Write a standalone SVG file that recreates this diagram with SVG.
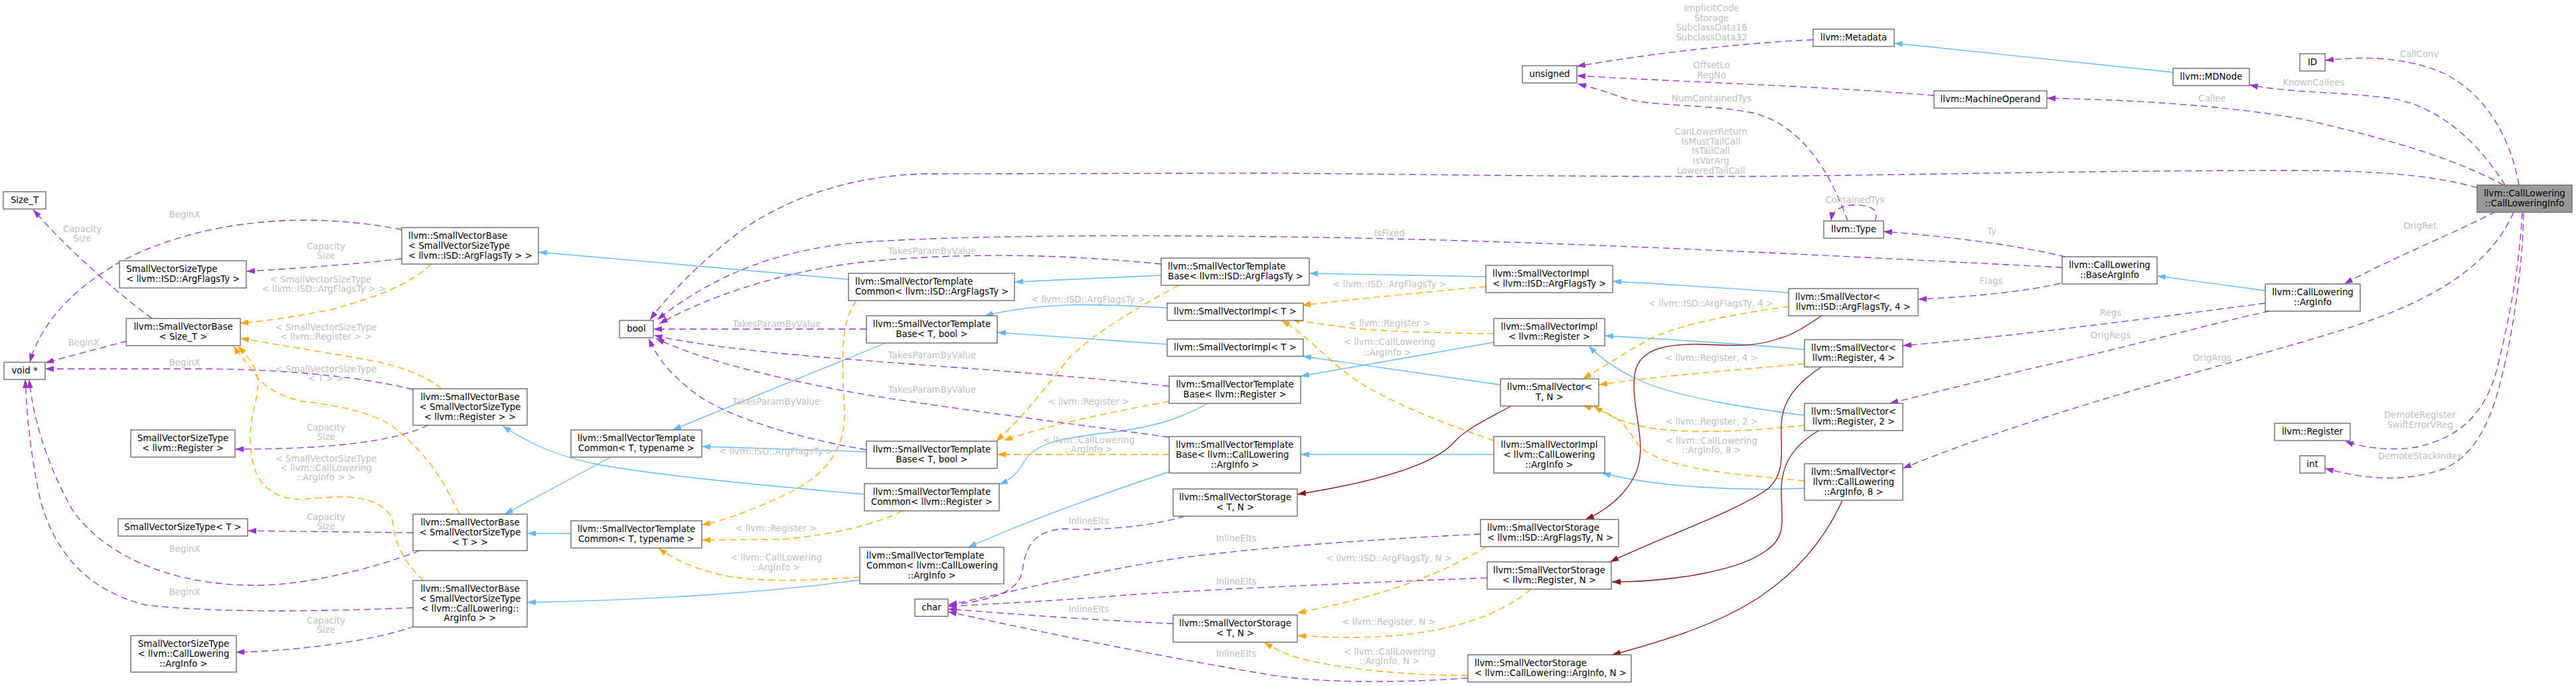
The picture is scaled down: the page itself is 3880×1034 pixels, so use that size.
<svg xmlns="http://www.w3.org/2000/svg" width="3880" height="1034" viewBox="0 0 3880 1034">
<style>
.n rect{fill:#fff;stroke:#666;stroke-width:1.33}
.n text,.l{font-family:"DejaVu Sans",sans-serif;font-size:13.33px}
.n text{fill:#000}
.m{text-anchor:middle}
.l{fill:#bebebe;text-anchor:middle}
.e path{fill:none;stroke-width:1.33}
.p{stroke:#9a32cd;stroke-dasharray:10,6;marker-end:url(#ap)}
.o{stroke:#ffa500;stroke-dasharray:10,6;marker-end:url(#ao)}
.b{stroke:#63b8ff;marker-end:url(#ab)}
.r{stroke:#8b1a1a;marker-end:url(#ar)}
</style>
<defs>
<marker id="ap" viewBox="0 0 13 9" refX="13" refY="4.5" markerWidth="13" markerHeight="9" markerUnits="userSpaceOnUse" orient="auto"><path d="M0,0L13,4.5L0,9z" fill="#9a32cd"/></marker>
<marker id="ao" viewBox="0 0 13 9" refX="13" refY="4.5" markerWidth="13" markerHeight="9" markerUnits="userSpaceOnUse" orient="auto"><path d="M0,0L13,4.5L0,9z" fill="#ffa500"/></marker>
<marker id="ab" viewBox="0 0 13 9" refX="13" refY="4.5" markerWidth="13" markerHeight="9" markerUnits="userSpaceOnUse" orient="auto"><path d="M0,0L13,4.5L0,9z" fill="#63b8ff"/></marker>
<marker id="ar" viewBox="0 0 13 9" refX="13" refY="4.5" markerWidth="13" markerHeight="9" markerUnits="userSpaceOnUse" orient="auto"><path d="M0,0L13,4.5L0,9z" fill="#8b1a1a"/></marker>
</defs>
<rect width="3880" height="1034" fill="#fff"/>
<g id="edges" class="e">
<path class="p" d="M229,480C190,452 110,385 50,316"/>
<text class="l" x="124" y="350">Capacity</text><text class="l" x="124" y="364">Size</text>
<path class="p" d="M605,346C480,322 330,325 200,385C110,430 60,490 45,546"/>
<text class="l" x="278" y="328">BeginX</text>
<path class="p" d="M605,390C540,398 440,405 371,409"/>
<text class="l" x="491" y="376">Capacity</text><text class="l" x="491" y="390">Size</text>
<path class="p" d="M191,514C150,525 100,538 68,547"/>
<text class="l" x="126" y="521">BeginX</text>
<path class="p" d="M622,587C540,567 420,556 300,556C200,556 120,556 68,556"/>
<text class="l" x="278" y="551">BeginX</text>
<path class="p" d="M645,641C600,662 520,677 354,677"/>
<text class="l" x="491" y="649">Capacity</text><text class="l" x="491" y="663">Size</text>
<path class="p" d="M622,803L373,800"/>
<text class="l" x="491" y="784">Capacity</text><text class="l" x="491" y="798">Size</text>
<path class="p" d="M632,830C560,858 450,885 373,882C260,880 160,840 110,770C70,700 50,630 44,572"/>
<text class="l" x="278" y="832">BeginX</text>
<path class="p" d="M622,916C480,922 330,924 220,912C130,890 80,830 60,750C45,680 40,620 38,572"/>
<text class="l" x="278" y="897">BeginX</text>
<path class="p" d="M624,944C580,960 480,980 355,983"/>
<text class="l" x="491" y="940">Capacity</text><text class="l" x="491" y="954">Size</text>
<path class="o" d="M650,398C620,425 580,445 497,467C430,480 390,485 361,487"/>
<text class="l" x="483" y="426">&lt; SmallVectorSizeType</text><text class="l" x="488" y="440">&lt; llvm::ISD::ArgFlagsTy &gt; &gt;</text>
<path class="o" d="M665,586C640,565 600,550 540,540C470,528 410,518 362,510"/>
<text class="l" x="491" y="498">&lt; SmallVectorSizeType</text><text class="l" x="491" y="512">&lt; llvm::Register &gt; &gt;</text>
<path class="o" d="M692,775C670,730 650,690 593,644C560,620 500,610 456,605C420,598 395,580 385,565C375,550 360,535 352,521"/>
<text class="l" x="491" y="561">&lt; SmallVectorSizeType</text><text class="l" x="491" y="575">&lt; T &gt; &gt;</text>
<path class="o" d="M638,875C610,850 595,820 592,790C590,765 560,750 518,749C480,748 440,760 415,744C385,728 378,700 377,660C377,620 392,595 388,570C385,550 372,535 358,522"/>
<text class="l" x="491" y="696">&lt; SmallVectorSizeType</text><text class="l" x="491" y="710">&lt; llvm::CallLowering</text><text class="l" x="491" y="724">::ArgInfo &gt; &gt;</text>
<path class="b" d="M1278,421L811,380"/>
<path class="b" d="M920,689L760,775"/>
<path class="b" d="M860,804L794,804"/>
<path class="b" d="M1302,745C1150,732 980,715 900,700C840,688 800,670 757,642"/>
<path class="b" d="M1295,874C1150,895 950,905 794,908"/>
<path class="b" d="M1334,517L1013,648"/>
<path class="b" d="M1749,415L1528,425"/>
<path class="b" d="M1821,607C1780,630 1740,645 1653,654C1590,662 1555,670 1540,700C1532,715 1520,724 1505,730"/>
<path class="b" d="M1761,711C1680,738 1560,780 1458,825"/>
<path class="b" d="M1305,681L1057,673"/>
<path class="b" d="M1758,464C1680,460 1580,452 1483,476"/>
<path class="b" d="M1758,519L1502,501"/>
<path class="p" d="M3731,283C3660,262 3560,257 3450,257C3100,257 2800,266 2570,266C2300,266 2000,261 1900,261L1400,262C1300,263 1200,290 1120,345C1060,390 1010,440 979,482"/>
<text class="l" x="2577" y="203">CanLowerReturn</text><text class="l" x="2577" y="218">IsMustTailCall</text><text class="l" x="2577" y="232">IsTailCall</text><text class="l" x="2577" y="247">IsVarArg</text><text class="l" x="2577" y="262">LoweredTailCall</text>
<path class="p" d="M3106,403C2800,388 2400,365 2000,358C1700,353 1450,355 1300,365C1180,375 1080,410 990,482"/>
<text class="l" x="2093" y="356">IsFixed</text>
<path class="p" d="M1749,398C1600,383 1450,380 1300,395C1170,410 1060,450 993,488"/>
<text class="l" x="1404" y="383">TakesParamByValue</text>
<path class="p" d="M1305,496L984,496"/>
<text class="l" x="1170" y="493">TakesParamByValue</text>
<path class="p" d="M1761,582C1500,555 1300,546 1150,530C1060,520 1010,512 985,505"/>
<text class="l" x="1404" y="540">TakesParamByValue</text>
<path class="p" d="M1761,659C1550,630 1350,605 1250,585C1100,555 1030,530 988,510"/>
<text class="l" x="1404" y="592">TakesParamByValue</text>
<path class="p" d="M1305,678C1200,660 1100,630 1050,595C1010,565 990,540 977,510"/>
<text class="l" x="1169" y="610">TakesParamByValue</text>
<path class="p" d="M2731,60C2650,63 2500,78 2375,100"/>
<text class="l" x="2578" y="17">ImplicitCode</text><text class="l" x="2578" y="32">Storage</text><text class="l" x="2578" y="46">SubclassData16</text><text class="l" x="2578" y="61">SubclassData32</text>
<path class="p" d="M2913,144C2750,130 2500,122 2375,114"/>
<text class="l" x="2578" y="103">OffsetLo</text><text class="l" x="2578" y="118">RegNo</text>
<path class="p" d="M2783,333C2760,270 2720,190 2640,170C2560,155 2480,162 2438,145C2410,135 2390,130 2376,126"/>
<text class="l" x="2578" y="153">NumContainedTys</text>
<path class="p" d="M2824,333C2832,315 2815,309 2795,309C2772,309 2760,318 2758,333"/>
<text class="l" x="2794" y="306">ContainedTys</text>
<path class="p" d="M3111,387C3030,368 2930,356 2837,349"/>
<text class="l" x="3000" y="353">Ty</text>
<path class="p" d="M3103,427C3050,440 2960,448 2889,451"/>
<text class="l" x="2999" y="428">Flags</text>
<path class="p" d="M3412,457C3250,478 3050,505 2866,521"/>
<text class="l" x="3179" y="476">Regs</text>
<path class="p" d="M3418,469C3320,490 3200,525 3065,554C2980,575 2900,595 2846,608"/>
<text class="l" x="3179" y="510">OrigRegs</text>
<path class="p" d="M3794,279C3780,200 3740,140 3680,110C3620,85 3560,85 3502,91"/>
<text class="l" x="3644" y="86">CallConv</text>
<path class="p" d="M3773,279C3740,225 3680,160 3600,148C3520,138 3450,140 3388,128"/>
<text class="l" x="3485" y="129">KnownCallees</text>
<path class="p" d="M3771,279C3700,240 3600,210 3470,180C3350,158 3200,150 3083,148"/>
<text class="l" x="3332" y="153">Callee</text>
<path class="p" d="M3759,319C3700,350 3600,390 3531,428"/>
<text class="l" x="3645" y="345">OrigRet</text>
<path class="p" d="M3786,320C3760,380 3700,440 3550,490C3400,540 3100,610 2866,706"/>
<text class="l" x="3332" y="544">OrigArgs</text>
<path class="p" d="M3799,320C3795,400 3780,480 3760,560C3740,630 3700,660 3640,674C3600,680 3560,675 3532,665"/>
<text class="l" x="3645" y="630">DemoteRegister</text><text class="l" x="3645" y="645">SwiftErrorVReg</text>
<path class="p" d="M3801,322C3800,400 3785,500 3770,560C3750,650 3720,690 3680,707C3620,728 3560,722 3502,706"/>
<text class="l" x="3645" y="692">DemoteStackIndex</text>
<path class="b" d="M3273,109L2853,65"/>
<path class="b" d="M3412,438L3249,416"/>
<path class="b" d="M2694,441C2600,434 2500,428 2429,424"/>
<path class="b" d="M2238,417L1972,412"/>
<path class="b" d="M2718,527C2650,520 2520,512 2417,506"/>
<path class="b" d="M2718,626C2640,616 2530,600 2471,574C2440,560 2410,540 2393,521"/>
<path class="b" d="M2718,736C2620,740 2500,735 2413,713"/>
<path class="b" d="M2250,685L1959,685"/>
<path class="b" d="M2250,516L1959,567"/>
<path class="b" d="M2260,580L1962,537"/>
<path class="o" d="M2238,432C2150,440 2050,450 1961,460"/>
<text class="l" x="2093" y="433">&lt; llvm::ISD::ArgFlagsTy &gt;</text>
<path class="o" d="M2250,503C2180,502 2090,500 2040,495C2000,490 1965,485 1945,481"/>
<text class="l" x="2093" y="492">&lt; llvm::Register &gt;</text>
<path class="o" d="M2250,664C2180,640 2100,610 2044,574C2000,545 1970,505 1930,483"/>
<text class="l" x="2093" y="520">&lt; llvm::CallLowering</text><text class="l" x="2090" y="536">::ArgInfo &gt;</text>
<path class="o" d="M2694,462C2620,472 2520,490 2480,514C2450,530 2420,550 2384,571"/>
<text class="l" x="2577" y="462">&lt; llvm::ISD::ArgFlagsTy, 4 &gt;</text>
<path class="o" d="M2718,548C2640,556 2500,566 2408,580"/>
<text class="l" x="2578" y="544">&lt; llvm::Register, 4 &gt;</text>
<path class="o" d="M2718,641C2640,650 2540,655 2480,644C2440,636 2420,625 2401,612"/>
<text class="l" x="2578" y="640">&lt; llvm::Register, 2 &gt;</text>
<path class="o" d="M2718,725C2620,715 2530,710 2480,681C2455,665 2460,640 2417,621C2400,615 2390,613 2384,611"/>
<text class="l" x="2578" y="669">&lt; llvm::CallLowering</text><text class="l" x="2578" y="683">::ArgInfo, 8 &gt;</text>
<path class="r" d="M2276,612C2240,632 2205,648 2190,667C2160,700 2080,725 1954,745"/>
<path class="r" d="M2745,475C2720,492 2700,505 2680,510C2640,525 2600,520 2560,519C2500,518 2470,530 2463,560C2455,600 2475,650 2470,690C2465,730 2430,765 2388,783"/>
<path class="r" d="M2745,552C2710,575 2685,600 2683,640C2682,680 2690,710 2665,735C2620,770 2500,810 2425,847"/>
<path class="r" d="M2741,648C2700,672 2683,700 2683,740C2684,790 2690,810 2660,830C2620,860 2520,877 2428,877"/>
<path class="r" d="M2775,754C2750,810 2710,860 2650,900C2590,940 2510,965 2428,987"/>
<path class="o" d="M2239,824C2180,860 2100,895 1954,924"/>
<text class="l" x="2092" y="846">&lt; llvm::ISD::ArgFlagsTy, N &gt;</text>
<path class="o" d="M2306,888C2270,920 2200,950 2100,958C2040,963 1990,960 1954,958"/>
<text class="l" x="2092" y="942">&lt; llvm::Register, N &gt;</text>
<path class="o" d="M2211,1018C2100,1018 2000,1005 1950,990C1930,983 1915,975 1904,968"/>
<text class="l" x="2093" y="987">&lt; llvm::CallLowering</text><text class="l" x="2093" y="1001">::ArgInfo, N &gt;</text>
<path class="p" d="M1784,778C1730,795 1650,800 1603,797C1560,800 1545,820 1540,860C1535,890 1500,905 1428,912"/>
<text class="l" x="1640" y="790">InlineElts</text>
<path class="p" d="M2230,805C2050,814 1900,825 1777,841C1650,860 1520,893 1428,912"/>
<text class="l" x="1862" y="816">InlineElts</text>
<path class="p" d="M2240,871C2000,880 1800,890 1695,897C1600,905 1500,910 1428,914"/>
<text class="l" x="1862" y="881">InlineElts</text>
<path class="p" d="M1767,940C1650,935 1520,925 1428,918"/>
<text class="l" x="1640" y="923">InlineElts</text>
<path class="p" d="M2211,1022C2100,1030 1980,1030 1900,1015C1780,995 1600,960 1428,922"/>
<text class="l" x="1862" y="990">InlineElts</text>
<path class="o" d="M1775,430C1720,460 1650,500 1610,540C1570,590 1540,630 1500,665"/>
<text class="l" x="1639" y="456">&lt; llvm::ISD::ArgFlagsTy &gt;</text>
<path class="o" d="M1761,605C1680,620 1580,640 1512,664"/>
<text class="l" x="1640" y="610">&lt; llvm::Register &gt;</text>
<path class="o" d="M1761,685L1502,685"/>
<text class="l" x="1640" y="668">&lt; llvm::CallLowering</text><text class="l" x="1640" y="682">::ArgInfo &gt;</text>
<path class="o" d="M1290,453C1262,490 1270,560 1272,620C1274,680 1240,720 1180,747C1130,770 1090,785 1057,791"/>
<text class="l" x="1169" y="685">&lt; llvm::ISD::ArgFlagsTy &gt;</text>
<path class="o" d="M1359,770C1320,790 1260,805 1179,813L1057,814"/>
<text class="l" x="1169" y="801">&lt; llvm::Register &gt;</text>
<path class="o" d="M1295,870C1230,874 1140,880 1080,865C1040,855 1010,840 992,826"/>
<text class="l" x="1169" y="845">&lt; llvm::CallLowering</text><text class="l" x="1169" y="860">::ArgInfo &gt;</text>
</g>
<g id="n1" class="n"><rect x="5" y="289" width="64" height="26"/><text class="m" x="37" y="306.3">Size_T</text></g>
<g id="n2" class="n"><rect x="180" y="393" width="191" height="41"/><text x="190" y="410.3">SmallVectorSizeType</text><text x="190" y="425">&lt; llvm::ISD::ArgFlagsTy &gt;</text></g>
<g id="n3" class="n"><rect x="190" y="480" width="172" height="41"/><text class="m" x="276" y="497.3">llvm::SmallVectorBase</text><text class="m" x="276" y="512">&lt; Size_T &gt;</text></g>
<g id="n4" class="n"><rect x="6" y="546" width="62" height="26"/><text class="m" x="37" y="563.3">void *</text></g>
<g id="n5" class="n"><rect x="197" y="648" width="157" height="41"/><text class="m" x="275.5" y="665.3">SmallVectorSizeType</text><text class="m" x="275.5" y="680">&lt; llvm::Register &gt;</text></g>
<g id="n6" class="n"><rect x="178" y="782" width="195" height="26"/><text class="m" x="275.5" y="799.3">SmallVectorSizeType&lt; T &gt;</text></g>
<g id="n7" class="n"><rect x="197" y="958" width="159" height="55"/><text class="m" x="276.5" y="975.3">SmallVectorSizeType</text><text class="m" x="276.5" y="990">&lt; llvm::CallLowering</text><text class="m" x="276.5" y="1004.7">::ArgInfo &gt;</text></g>
<g id="n8" class="n"><rect x="605" y="343" width="206" height="55"/><text x="615" y="360.3">llvm::SmallVectorBase</text><text x="615" y="375">&lt; SmallVectorSizeType</text><text x="615" y="389.7">&lt; llvm::ISD::ArgFlagsTy &gt; &gt;</text></g>
<g id="n9" class="n"><rect x="622" y="586" width="172" height="55"/><text class="m" x="708" y="603.3">llvm::SmallVectorBase</text><text class="m" x="708" y="618">&lt; SmallVectorSizeType</text><text class="m" x="708" y="632.7">&lt; llvm::Register &gt; &gt;</text></g>
<g id="n10" class="n"><rect x="622" y="775" width="172" height="55"/><text class="m" x="708" y="792.3">llvm::SmallVectorBase</text><text class="m" x="708" y="807">&lt; SmallVectorSizeType</text><text class="m" x="708" y="821.7">&lt; T &gt; &gt;</text></g>
<g id="n11" class="n"><rect x="622" y="875" width="172" height="70"/><text class="m" x="708" y="892.3">llvm::SmallVectorBase</text><text class="m" x="708" y="907">&lt; SmallVectorSizeType</text><text class="m" x="708" y="921.7">&lt; llvm::CallLowering::</text><text class="m" x="708" y="936.3">ArgInfo &gt; &gt;</text></g>
<g id="n12" class="n"><rect x="933" y="483" width="51" height="26"/><text class="m" x="958.5" y="500.3">bool</text></g>
<g id="n13" class="n"><rect x="860" y="648" width="197" height="41"/><text class="m" x="958.5" y="665.3">llvm::SmallVectorTemplate</text><text class="m" x="958.5" y="680">Common&lt; T, typename &gt;</text></g>
<g id="n14" class="n"><rect x="860" y="785" width="197" height="41"/><text class="m" x="958.5" y="802.3">llvm::SmallVectorTemplate</text><text class="m" x="958.5" y="817">Common&lt; T, typename &gt;</text></g>
<g id="n15" class="n"><rect x="1278" y="412" width="250" height="41"/><text x="1288" y="429.3">llvm::SmallVectorTemplate</text><text x="1288" y="444">Common&lt; llvm::ISD::ArgFlagsTy &gt;</text></g>
<g id="n16" class="n"><rect x="1305" y="476" width="197" height="41"/><text class="m" x="1403.5" y="493.3">llvm::SmallVectorTemplate</text><text class="m" x="1403.5" y="508">Base&lt; T, bool &gt;</text></g>
<g id="n17" class="n"><rect x="1305" y="665" width="197" height="41"/><text class="m" x="1403.5" y="682.3">llvm::SmallVectorTemplate</text><text class="m" x="1403.5" y="697">Base&lt; T, bool &gt;</text></g>
<g id="n18" class="n"><rect x="1302" y="729" width="203" height="41"/><text class="m" x="1403.5" y="746.3">llvm::SmallVectorTemplate</text><text class="m" x="1403.5" y="761">Common&lt; llvm::Register &gt;</text></g>
<g id="n19" class="n"><rect x="1295" y="825" width="217" height="55"/><text x="1305" y="842.3">llvm::SmallVectorTemplate</text><text x="1305" y="857">Common&lt; llvm::CallLowering</text><text class="m" x="1403.5" y="871.7">::ArgInfo &gt;</text></g>
<g id="n20" class="n"><rect x="1378" y="903" width="50" height="26"/><text class="m" x="1403" y="920.3">char</text></g>
<g id="n21" class="n"><rect x="1749" y="389" width="223" height="41"/><text x="1759" y="406.3">llvm::SmallVectorTemplate</text><text x="1759" y="421">Base&lt; llvm::ISD::ArgFlagsTy &gt;</text></g>
<g id="n22" class="n"><rect x="1758" y="457" width="205" height="26"/><text class="m" x="1860.5" y="474.3">llvm::SmallVectorImpl&lt; T &gt;</text></g>
<g id="n23" class="n"><rect x="1758" y="511" width="205" height="26"/><text class="m" x="1860.5" y="528.3">llvm::SmallVectorImpl&lt; T &gt;</text></g>
<g id="n24" class="n"><rect x="1761" y="567" width="198" height="41"/><text class="m" x="1860" y="584.3">llvm::SmallVectorTemplate</text><text class="m" x="1860" y="599">Base&lt; llvm::Register &gt;</text></g>
<g id="n25" class="n"><rect x="1761" y="658" width="198" height="55"/><text x="1771" y="675.3">llvm::SmallVectorTemplate</text><text x="1771" y="690">Base&lt; llvm::CallLowering</text><text class="m" x="1860" y="704.7">::ArgInfo &gt;</text></g>
<g id="n26" class="n"><rect x="1767" y="737" width="187" height="41"/><text class="m" x="1860.5" y="754.3">llvm::SmallVectorStorage</text><text class="m" x="1860.5" y="769">&lt; T, N &gt;</text></g>
<g id="n27" class="n"><rect x="1767" y="927" width="187" height="41"/><text class="m" x="1860.5" y="944.3">llvm::SmallVectorStorage</text><text class="m" x="1860.5" y="959">&lt; T, N &gt;</text></g>
<g id="n28" class="n"><rect x="2293" y="99" width="82" height="26"/><text class="m" x="2334" y="116.3">unsigned</text></g>
<g id="n29" class="n"><rect x="2238" y="400" width="191" height="41"/><text x="2248" y="417.3">llvm::SmallVectorImpl</text><text x="2248" y="432">&lt; llvm::ISD::ArgFlagsTy &gt;</text></g>
<g id="n30" class="n"><rect x="2250" y="480" width="167" height="41"/><text class="m" x="2333.5" y="497.3">llvm::SmallVectorImpl</text><text class="m" x="2333.5" y="512">&lt; llvm::Register &gt;</text></g>
<g id="n31" class="n"><rect x="2260" y="571" width="148" height="41"/><text class="m" x="2334" y="588.3">llvm::SmallVector&lt;</text><text class="m" x="2334" y="603">T, N &gt;</text></g>
<g id="n32" class="n"><rect x="2250" y="658" width="167" height="55"/><text class="m" x="2333.5" y="675.3">llvm::SmallVectorImpl</text><text class="m" x="2333.5" y="690">&lt; llvm::CallLowering</text><text class="m" x="2333.5" y="704.7">::ArgInfo &gt;</text></g>
<g id="n33" class="n"><rect x="2230" y="783" width="208" height="41"/><text x="2240" y="800.3">llvm::SmallVectorStorage</text><text x="2240" y="815">&lt; llvm::ISD::ArgFlagsTy, N &gt;</text></g>
<g id="n34" class="n"><rect x="2240" y="847" width="187" height="41"/><text class="m" x="2333.5" y="864.3">llvm::SmallVectorStorage</text><text class="m" x="2333.5" y="879">&lt; llvm::Register, N &gt;</text></g>
<g id="n35" class="n"><rect x="2211" y="987" width="246" height="41"/><text x="2221" y="1004.3">llvm::SmallVectorStorage</text><text x="2221" y="1019">&lt; llvm::CallLowering::ArgInfo, N &gt;</text></g>
<g id="n36" class="n"><rect x="2731" y="44" width="122" height="26"/><text class="m" x="2792" y="61.3">llvm::Metadata</text></g>
<g id="n37" class="n"><rect x="2913" y="137" width="170" height="26"/><text class="m" x="2998" y="154.3">llvm::MachineOperand</text></g>
<g id="n38" class="n"><rect x="2747" y="333" width="90" height="26"/><text class="m" x="2792" y="350.3">llvm::Type</text></g>
<g id="n39" class="n"><rect x="3106" y="387" width="143" height="41"/><text class="m" x="3177.5" y="404.3">llvm::CallLowering</text><text class="m" x="3177.5" y="419">::BaseArgInfo</text></g>
<g id="n40" class="n"><rect x="2694" y="435" width="195" height="41"/><text x="2704" y="452.3">llvm::SmallVector&lt;</text><text class="m" x="2791.5" y="467">llvm::ISD::ArgFlagsTy, 4 &gt;</text></g>
<g id="n41" class="n"><rect x="2718" y="512" width="148" height="41"/><text class="m" x="2792" y="529.3">llvm::SmallVector&lt;</text><text class="m" x="2792" y="544">llvm::Register, 4 &gt;</text></g>
<g id="n42" class="n"><rect x="2718" y="608" width="148" height="41"/><text class="m" x="2792" y="625.3">llvm::SmallVector&lt;</text><text class="m" x="2792" y="640">llvm::Register, 2 &gt;</text></g>
<g id="n43" class="n"><rect x="2718" y="699" width="148" height="55"/><text class="m" x="2792" y="716.3">llvm::SmallVector&lt;</text><text class="m" x="2792" y="731">llvm::CallLowering</text><text class="m" x="2792" y="745.7">::ArgInfo, 8 &gt;</text></g>
<g id="n44" class="n"><rect x="3273" y="103" width="115" height="26"/><text class="m" x="3330.5" y="120.3">llvm::MDNode</text></g>
<g id="n45" class="n"><rect x="3464" y="81" width="38" height="26"/><text class="m" x="3483" y="98.3">ID</text></g>
<g id="n46" class="n"><rect x="3731" y="279" width="143" height="41" style="fill:#999"/><text class="m" x="3802.5" y="296.3">llvm::CallLowering</text><text class="m" x="3802.5" y="311">::CallLoweringInfo</text></g>
<g id="n47" class="n"><rect x="3412" y="428" width="143" height="41"/><text class="m" x="3483.5" y="445.3">llvm::CallLowering</text><text class="m" x="3483.5" y="460">::ArgInfo</text></g>
<g id="n48" class="n"><rect x="3426" y="638" width="114" height="26"/><text class="m" x="3483" y="655.3">llvm::Register</text></g>
<g id="n49" class="n"><rect x="3464" y="687" width="38" height="26"/><text class="m" x="3483" y="704.3">int</text></g>
</svg>
